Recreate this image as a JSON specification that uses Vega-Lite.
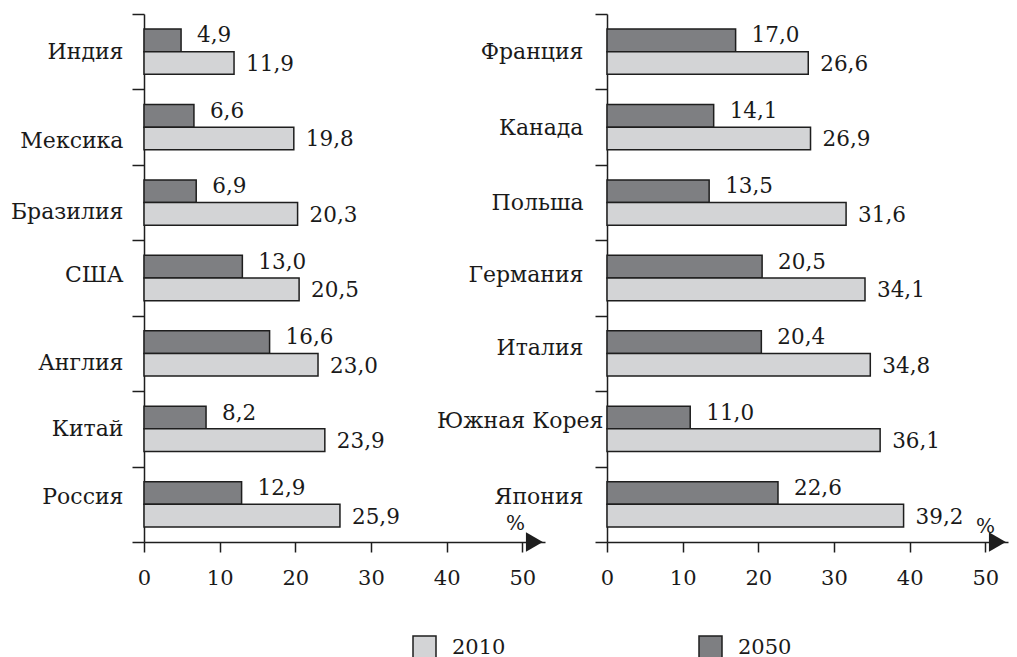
{
  "$schema": "https://vega.github.io/schema/vega-lite/v6.json",
  "background": "white",
  "padding": {"top": 3, "left": 10, "right": 5, "bottom": 2},
  "datasets": {
    "left": [
      {"country": "Индия", "year": "2050", "value": 4.9},
      {"country": "Индия", "year": "2010", "value": 11.9},
      {"country": "Мексика", "year": "2050", "value": 6.6},
      {"country": "Мексика", "year": "2010", "value": 19.8},
      {"country": "Бразилия", "year": "2050", "value": 6.9},
      {"country": "Бразилия", "year": "2010", "value": 20.3},
      {"country": "США", "year": "2050", "value": 13.0},
      {"country": "США", "year": "2010", "value": 20.5},
      {"country": "Англия", "year": "2050", "value": 16.6},
      {"country": "Англия", "year": "2010", "value": 23.0},
      {"country": "Китай", "year": "2050", "value": 8.2},
      {"country": "Китай", "year": "2010", "value": 23.9},
      {"country": "Россия", "year": "2050", "value": 12.9},
      {"country": "Россия", "year": "2010", "value": 25.9}
    ],
    "right": [
      {"country": "Франция", "year": "2050", "value": 17.0},
      {"country": "Франция", "year": "2010", "value": 26.6},
      {"country": "Канада", "year": "2050", "value": 14.1},
      {"country": "Канада", "year": "2010", "value": 26.9},
      {"country": "Польша", "year": "2050", "value": 13.5},
      {"country": "Польша", "year": "2010", "value": 31.6},
      {"country": "Германия", "year": "2050", "value": 20.5},
      {"country": "Германия", "year": "2010", "value": 34.1},
      {"country": "Италия", "year": "2050", "value": 20.4},
      {"country": "Италия", "year": "2010", "value": 34.8},
      {"country": "Южная Корея", "year": "2050", "value": 11.0},
      {"country": "Южная Корея", "year": "2010", "value": 36.1},
      {"country": "Япония", "year": "2050", "value": 22.6},
      {"country": "Япония", "year": "2010", "value": 39.2}
    ]
  },
  "bounds": "flush",
  "spacing": 62,
  "resolve": {"scale": {"y": "independent", "x": "independent", "yOffset": "independent", "color": "shared"}},
  "hconcat": [
    {
      "width": 401,
      "height": 528,
      "data": {"name": "left"},
      "layer": [
        {
          "mark": {"type": "bar", "stroke": "#1e1e1e", "strokeWidth": 1.5},
          "encoding": {
            "y": {"field": "country", "type": "nominal", "sort": ["Индия", "Мексика", "Бразилия", "США", "Англия", "Китай", "Россия"], "scale": {"paddingInner": 0, "paddingOuter": 0}, "axis": {"title": null, "labelPadding": 9, "labelOffset": {"condition": [{"test": "datum.value === 'Мексика'", "value": 13}, {"test": "datum.value === 'Бразилия'", "value": 9}, {"test": "datum.value === 'США'", "value": -4}, {"test": "datum.value === 'Англия'", "value": 9}, {"test": "datum.value === 'Россия'", "value": -8}], "value": 0}}},
            "yOffset": {"field": "year", "type": "nominal", "sort": ["2050", "2010"], "scale": {"paddingInner": 0, "paddingOuter": 0.6667}},
            "x": {"field": "value", "type": "quantitative", "scale": {"domain": [0, 53], "nice": false}, "axis": {"values": [0, 10, 20, 30, 40, 50], "title": "%", "titleX": 371, "titleY": -19}},
            "color": {"field": "year", "type": "nominal", "scale": {"domain": ["2010", "2050"], "range": ["#d3d4d6", "#7e7f82"]}, "legend": {"title": null, "orient": "none", "direction": "horizontal", "legendX": 268, "legendY": 621, "symbolType": "square", "symbolSize": 529, "symbolStrokeColor": "#1e1e1e", "symbolStrokeWidth": 1.5, "symbolOpacity": 1, "labelFont": "DejaVu Serif", "labelFontSize": 21, "labelColor": "#1a1a1a", "labelOffset": 15, "columnPadding": 190}}
          }
        },
        {
          "transform": [{"filter": "datum.year === '2050'"}],
          "mark": {"type": "text", "align": "left", "baseline": "middle", "dx": 16, "dy": -4, "font": "DejaVu Serif", "fontSize": 21.5, "fill": "#1a1a1a"},
          "encoding": {
            "y": {"field": "country", "type": "nominal", "sort": ["Индия", "Мексика", "Бразилия", "США", "Англия", "Китай", "Россия"]},
            "yOffset": {"field": "year", "type": "nominal", "sort": ["2050", "2010"]},
            "x": {"field": "value", "type": "quantitative"},
            "text": {"field": "value", "type": "quantitative", "format": ".1f"}
          }
        },
        {
          "transform": [{"filter": "datum.year === '2010'"}],
          "mark": {"type": "text", "align": "left", "baseline": "middle", "dx": 12, "dy": 2, "font": "DejaVu Serif", "fontSize": 21.5, "fill": "#1a1a1a"},
          "encoding": {
            "y": {"field": "country", "type": "nominal", "sort": ["Индия", "Мексика", "Бразилия", "США", "Англия", "Китай", "Россия"]},
            "yOffset": {"field": "year", "type": "nominal", "sort": ["2050", "2010"]},
            "x": {"field": "value", "type": "quantitative"},
            "text": {"field": "value", "type": "quantitative", "format": ".1f"}
          }
        },
        {
          "data": {"values": [{}]},
          "mark": {"type": "point", "shape": "triangle-right", "filled": true, "size": 380, "color": "#1e1e1e", "opacity": 1},
          "encoding": {"x": {"datum": 51.6, "type": "quantitative"}, "y": {"value": "height"}}
        }
      ]
    },
    {
      "width": 401,
      "height": 528,
      "data": {"name": "right"},
      "layer": [
        {
          "mark": {"type": "bar", "stroke": "#1e1e1e", "strokeWidth": 1.5},
          "encoding": {
            "y": {"field": "country", "type": "nominal", "sort": ["Франция", "Канада", "Польша", "Германия", "Италия", "Южная Корея", "Япония"], "scale": {"paddingInner": 0, "paddingOuter": 0}, "axis": {"title": null, "labelPadding": {"condition": {"test": "datum.value === 'Южная Корея'", "value": -8}, "value": 12}, "labelOffset": {"condition": [{"test": "datum.value === 'Германия'", "value": -4}, {"test": "datum.value === 'Италия'", "value": -6}, {"test": "datum.value === 'Южная Корея'", "value": -8}, {"test": "datum.value === 'Япония'", "value": -8}], "value": 0}}},
            "yOffset": {"field": "year", "type": "nominal", "sort": ["2050", "2010"], "scale": {"paddingInner": 0, "paddingOuter": 0.6667}},
            "x": {"field": "value", "type": "quantitative", "scale": {"domain": [0, 53], "nice": false}, "axis": {"values": [0, 10, 20, 30, 40, 50], "title": "%", "titleX": 378, "titleY": -16}},
            "color": {"field": "year", "type": "nominal", "scale": {"domain": ["2010", "2050"], "range": ["#d3d4d6", "#7e7f82"]}}
          }
        },
        {
          "transform": [{"filter": "datum.year === '2050'"}],
          "mark": {"type": "text", "align": "left", "baseline": "middle", "dx": 16, "dy": -4, "font": "DejaVu Serif", "fontSize": 21.5, "fill": "#1a1a1a"},
          "encoding": {
            "y": {"field": "country", "type": "nominal", "sort": ["Франция", "Канада", "Польша", "Германия", "Италия", "Южная Корея", "Япония"]},
            "yOffset": {"field": "year", "type": "nominal", "sort": ["2050", "2010"]},
            "x": {"field": "value", "type": "quantitative"},
            "text": {"field": "value", "type": "quantitative", "format": ".1f"}
          }
        },
        {
          "transform": [{"filter": "datum.year === '2010'"}],
          "mark": {"type": "text", "align": "left", "baseline": "middle", "dx": 12, "dy": 2, "font": "DejaVu Serif", "fontSize": 21.5, "fill": "#1a1a1a"},
          "encoding": {
            "y": {"field": "country", "type": "nominal", "sort": ["Франция", "Канада", "Польша", "Германия", "Италия", "Южная Корея", "Япония"]},
            "yOffset": {"field": "year", "type": "nominal", "sort": ["2050", "2010"]},
            "x": {"field": "value", "type": "quantitative"},
            "text": {"field": "value", "type": "quantitative", "format": ".1f"}
          }
        },
        {
          "data": {"values": [{}]},
          "mark": {"type": "point", "shape": "triangle-right", "filled": true, "size": 380, "color": "#1e1e1e", "opacity": 1},
          "encoding": {"x": {"datum": 51.6, "type": "quantitative"}, "y": {"value": "height"}}
        }
      ]
    }
  ],
  "config": {
    "locale": {"number": {"decimal": ",", "thousands": " ", "grouping": [3], "currency": ["", ""]}},
    "font": "DejaVu Serif",
    "view": {"stroke": null},
    "axisY": {"tickBand": "extent", "tickSize": 12, "tickWidth": 1.5, "tickColor": "#1e1e1e", "domainColor": "#1e1e1e", "domainWidth": 1.5, "labelFont": "DejaVu Serif", "labelFontSize": 22, "labelColor": "#1a1a1a", "grid": false},
    "axisX": {"tickSize": 10, "tickWidth": 1.5, "tickColor": "#1e1e1e", "domainColor": "#1e1e1e", "domainWidth": 1.5, "labelPadding": 15, "labelFlush": false, "labelFont": "DejaVu Serif", "labelFontSize": 21, "labelColor": "#1a1a1a", "grid": false, "titleFont": "DejaVu Serif", "titleFontSize": 20, "titleFontWeight": "normal", "titleColor": "#1a1a1a", "titleAlign": "center", "titleBaseline": "middle", "titleAngle": 0}
  }
}
